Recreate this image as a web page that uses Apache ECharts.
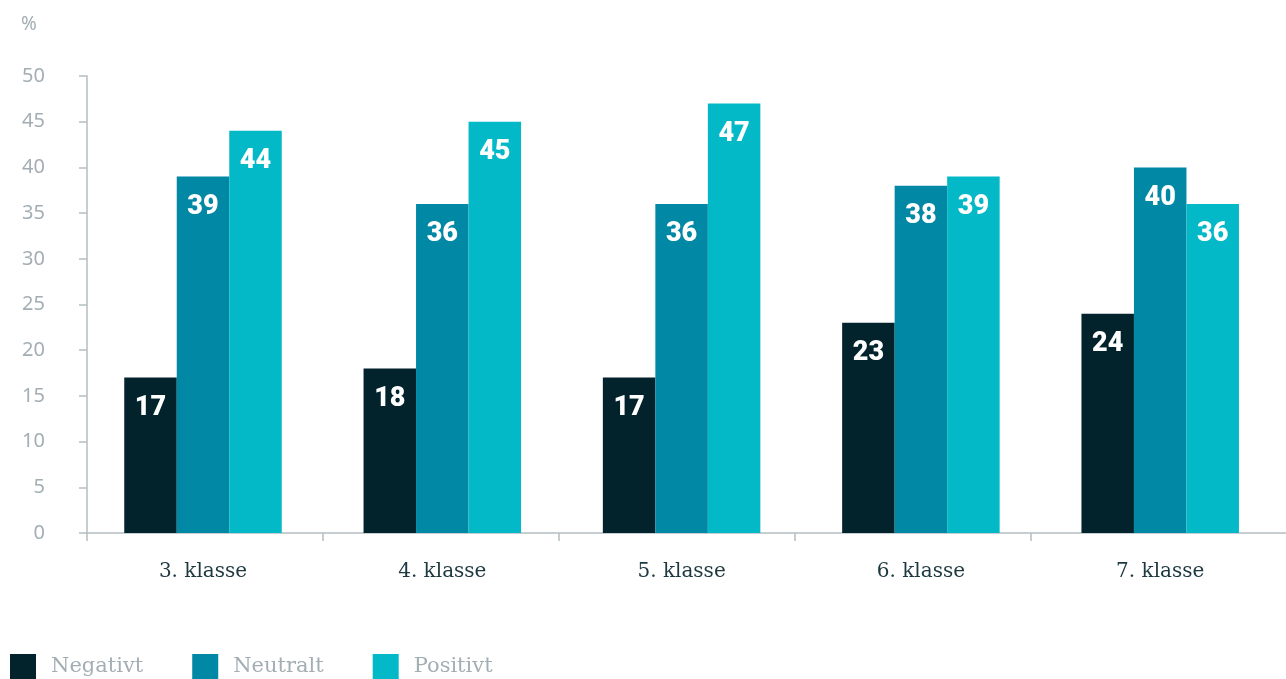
<!DOCTYPE html>
<html>
<head>
<meta charset="utf-8">
<script src="https://cdn.jsdelivr.net/npm/echarts@6/dist/echarts.min.js"></script>
<style>html,body{margin:0;padding:0;background:#fff}#c{width:1286px;height:679px}</style>
</head>
<body>
<div id="c"></div>
<script>
const categories = ['3. klasse', '4. klasse', '5. klasse', '6. klasse', '7. klasse'];
const negativt = [17, 18, 17, 23, 24];
const neutralt = [39, 36, 36, 38, 40];
const positivt = [44, 45, 47, 39, 36];
const seriesNames = ['Negativt', 'Neutralt', 'Positivt'];
const yTicks = [0, 5, 10, 15, 20, 25, 30, 35, 40, 45, 50];
const colors = ['#02232c', '#0088a5', '#04b9c7'];

const axisGray = '#b4bec3';
const textGray = '#a3aeb4';
const W = 1286;
// tick spacing of the visible x axis (one slot per category)
const slot = 236;
const axisLeft = 87;

const chart = echarts.init(document.getElementById('c'));
const labelStyle = {
  show: true,
  position: 'insideTop',
  distance: 17,
  color: '#ffffff',
  fontFamily: 'Roboto',
  fontWeight: 900,
  fontSize: 27
};
function mk(name, data, color) {
  return {
    name: name, type: 'bar', data: data, barWidth: 52.5, barGap: '0%',
    xAxisIndex: 0, yAxisIndex: 0,
    itemStyle: { color: color }, label: labelStyle
  };
}
chart.setOption({
  animation: false,
  color: colors,
  grid: [
    { left: 83.35, right: 6.15, top: 76, bottom: 146 },
    { left: axisLeft, right: 0, top: 76, bottom: 146 }
  ],
  legend: {
    left: 5, top: 649, itemWidth: 26, itemHeight: 25, itemGap: 49,
    icon: 'rect',
    textStyle: { color: textGray, fontSize: 21, fontFamily: 'DejaVu Serif', padding: [0, 0, 0, 10] },
    data: seriesNames
  },
  graphic: [{ type: 'text', left: 21, top: 15, style: { text: '%', fill: textGray, fontSize: 19, fontFamily: 'Noto Sans' } }],
  xAxis: [
    {
      type: 'category', data: categories, gridIndex: 0,
      axisLine: { show: false }, axisTick: { show: false },
      axisLabel: { color: '#1d3840', fontSize: 20, fontFamily: 'DejaVu Serif', margin: 29 }
    },
    {
      type: 'value', gridIndex: 1, min: 0, max: (W - axisLeft) / slot, interval: 1,
      axisLine: { show: true, lineStyle: { color: axisGray, width: 1.5 } },
      axisTick: { show: true, length: 8, customValues: [0, 1, 2, 3, 4], lineStyle: { color: axisGray, width: 1.5 } },
      axisLabel: { show: false },
      splitLine: { show: false }
    }
  ],
  yAxis: [
    { type: 'value', gridIndex: 0, min: 0, max: 50, interval: 5, show: false, splitLine: { show: false } },
    {
      type: 'value', gridIndex: 1, min: yTicks[0], max: yTicks[yTicks.length - 1], interval: yTicks[1] - yTicks[0],
      axisLine: { show: true, lineStyle: { color: axisGray, width: 1.5 } },
      axisTick: { show: true, length: 8, lineStyle: { color: axisGray, width: 1.5 } },
      splitLine: { show: false },
      axisLabel: { color: textGray, fontSize: 20, fontFamily: 'Noto Sans', margin: 42 }
    }
  ],
  series: [
    mk(seriesNames[0], negativt, colors[0]),
    mk(seriesNames[1], neutralt, colors[1]),
    mk(seriesNames[2], positivt, colors[2])
  ]
});
</script>
</body>
</html>
